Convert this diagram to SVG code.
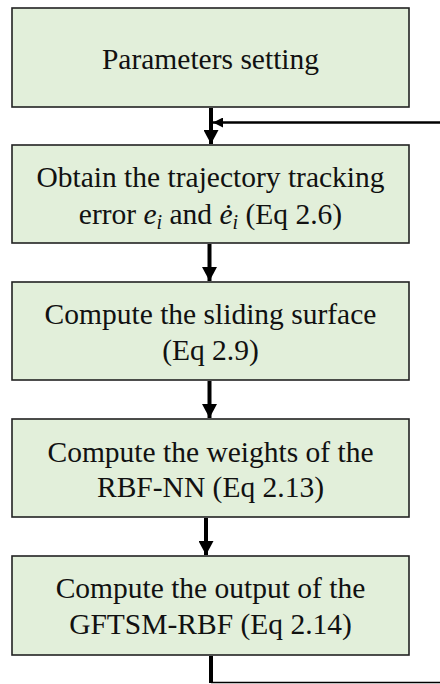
<svg xmlns="http://www.w3.org/2000/svg" width="440" height="684" viewBox="0 0 440 684">
<style>
.box{fill:#e2efda;stroke:#222;stroke-width:1.6}
.t{font-family:"Liberation Serif","Times New Roman",serif;font-size:29.5px;fill:#111;text-anchor:middle}
.it{font-style:italic}
.sub{font-style:italic;font-size:20px}
.ln{stroke:#000;fill:none}
</style>
<defs>
<marker id="ah" viewBox="0 0 14 15" refX="14" refY="7.5" markerWidth="14" markerHeight="15" markerUnits="userSpaceOnUse" orient="auto">
<path d="M0,0 L14,7.5 L0,15 Z" fill="#000"/>
</marker>
<marker id="ahs" viewBox="0 0 10 10" refX="10" refY="5" markerWidth="10" markerHeight="10" markerUnits="userSpaceOnUse" orient="auto">
<path d="M0,0 L10,5 L0,10 Z" fill="#000"/>
</marker>
</defs>
<rect width="440" height="684" fill="#fff"/>
<g id="connectors">
<line class="ln" x1="211" y1="108" x2="211" y2="144" stroke-width="4" marker-end="url(#ah)"/>
<line class="ln" x1="440" y1="122.5" x2="213" y2="122.5" stroke-width="2.6" marker-end="url(#ahs)"/>
<line class="ln" x1="209.5" y1="244" x2="209.5" y2="281" stroke-width="4" marker-end="url(#ah)"/>
<line class="ln" x1="209.5" y1="381" x2="209.5" y2="418" stroke-width="4" marker-end="url(#ah)"/>
<line class="ln" x1="206" y1="518" x2="206" y2="555" stroke-width="4" marker-end="url(#ah)"/>
<line class="ln" x1="211" y1="656" x2="211" y2="683" stroke-width="4"/>
<line class="ln" x1="211" y1="682.5" x2="440" y2="682.5" stroke-width="1.6"/>
</g>
<g id="n1">
<rect class="box" x="12" y="8" width="397" height="99"/>
<text class="t" x="210.5" y="68.5">Parameters setting</text>
</g>
<g id="n2">
<rect class="box" x="12" y="145" width="397" height="98"/>
<text class="t" x="210.5" y="187">Obtain the trajectory tracking</text>
<text class="t" x="210.5" y="223.5">error <tspan class="it">e</tspan><tspan class="sub" dy="5">i</tspan><tspan dy="-5"> and </tspan><tspan class="it">ė</tspan><tspan class="sub" dy="5">i</tspan><tspan dy="-5"> (Eq 2.6)</tspan></text>
</g>
<g id="n3">
<rect class="box" x="12" y="282" width="397" height="98"/>
<text class="t" x="210.5" y="323.5">Compute the sliding surface</text>
<text class="t" x="210.5" y="360">(Eq 2.9)</text>
</g>
<g id="n4">
<rect class="box" x="12" y="419" width="397" height="98"/>
<text class="t" x="210.5" y="461.5">Compute the weights of the</text>
<text class="t" x="210.5" y="496.5">RBF-NN (Eq 2.13)</text>
</g>
<g id="n5">
<rect class="box" x="12" y="556" width="397" height="99"/>
<text class="t" x="210.5" y="597.5">Compute the output of the</text>
<text class="t" x="210.5" y="633.5">GFTSM-RBF (Eq 2.14)</text>
</g>
</svg>
